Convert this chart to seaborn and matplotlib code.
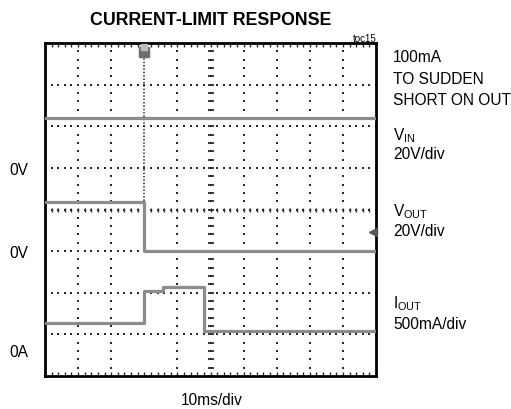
import numpy as np
import pandas as pd
import matplotlib
matplotlib.use("Agg")
import matplotlib.pyplot as plt
import seaborn as sns

# ---- data (read from the scope shot) ----
time_ms = [0, 30, 35.5, 48, 100]
vin_V = [24, 24, 24, 24, 24]
vout_V = [23.6, 0, 0, 0, 0]
iout_mA = [137, 525, 565, 40, 40]
trigger_ms = 30

# channel settings: (ground reference in divisions, units per division)
vin_ref, vin_scale = 5.0, 20.0
vout_ref, vout_scale = 3.0, 20.0
iout_ref, iout_scale = 1.0, 500.0

sns.set_theme(style="white")
plt.rcParams['font.family'] = ['Liberation Sans', 'DejaVu Sans']
plt.rcParams['mathtext.fontset'] = 'custom'
plt.rcParams['mathtext.rm'] = 'Liberation Sans'
plt.rcParams['text.color'] = 'black'

W, H = 511, 410
fig = plt.figure(figsize=(W / 100, H / 100), dpi=100)
L, R, T, B = 45, 376, 44, 377
ax = fig.add_axes([L / W, 1 - B / H, (R - L) / W, (B - T) / H])
ax.set_xlim(0, 100)
ax.set_ylim(0, 8)

# graticule
dot_c = '#2a2a2a'
xs_fine = np.arange(0, 100.001, 2)
ys_fine = np.arange(0, 8.001, 0.2)
for gx in range(10, 100, 10):
    if gx == trigger_ms:
        continue
    ax.scatter(np.full_like(ys_fine, gx), ys_fine, s=2.6, marker='s', color=dot_c, linewidths=0, zorder=1)
for gy in range(1, 8):
    ax.scatter(xs_fine, np.full_like(xs_fine, gy), s=2.6, marker='s', color=dot_c, linewidths=0, zorder=1)
# center axis minor ticks
ax.scatter(np.full_like(ys_fine, 50), ys_fine, s=14, marker='_', color=dot_c, linewidths=1.3, zorder=1)
ax.scatter(xs_fine, np.full_like(xs_fine, 4), s=10, marker='|', color=dot_c, linewidths=1.0, zorder=1)
# bottom / top edge ticks
ax.scatter(xs_fine, np.full_like(xs_fine, 0.05), s=10, marker='|', color=dot_c, linewidths=1.0, zorder=1, clip_on=False)
ax.scatter(xs_fine, np.full_like(xs_fine, 7.95), s=6, marker='|', color=dot_c, linewidths=1.0, zorder=1, clip_on=False)
# trigger line (dense dots)
ax.plot([trigger_ms, trigger_ms], [4.2, 7.7], color=dot_c, lw=1.1, ls=(0, (1, 1.2)), zorder=1)

# traces
df = pd.DataFrame({
    't': time_ms * 3,
    'div': [vin_ref + v / vin_scale for v in vin_V]
         + [vout_ref + v / vout_scale for v in vout_V]
         + [iout_ref + v / iout_scale for v in iout_mA],
    'ch': ['VIN'] * len(time_ms) + ['VOUT'] * len(time_ms) + ['IOUT'] * len(time_ms),
})
sns.lineplot(data=df, x='t', y='div', units='ch', estimator=None, sort=False,
             color='#8c8c8c', linewidth=2.3, drawstyle='steps-post', ax=ax,
             legend=False, zorder=3)

# trigger marker and level marker
ax.plot([trigger_ms], [7.78], marker='s', markersize=7, color='#6e6e6e', zorder=4, clip_on=False)
ax.plot([trigger_ms], [7.9], marker='s', markersize=4, color='#bdbdbd', zorder=5, clip_on=False)
ax.plot([99.2], [3.46], marker='<', markersize=6, color='#555555', zorder=4, clip_on=False)

ax.set_xticks([])
ax.set_yticks([])
ax.set_xlabel('')
ax.set_ylabel('')
for s in ax.spines.values():
    s.set_visible(True)
    s.set_color('black')
    s.set_linewidth(2.0)

def ftxt(x, y, s, **kw):
    fig.text(x / W, 1 - y / H, s, **kw)

fs = 11.2
rx = 393
ftxt(211, 25, 'CURRENT-LIMIT RESPONSE', ha='center', va='baseline', fontsize=12.8, fontweight='bold')
ftxt(377, 42, 'toc15', ha='right', va='baseline', fontsize=7)
ftxt(rx, 62, '100mA', ha='left', va='baseline', fontsize=fs)
ftxt(rx, 84, 'TO SUDDEN', ha='left', va='baseline', fontsize=fs)
ftxt(rx, 105, 'SHORT ON OUT', ha='left', va='baseline', fontsize=fs)
ftxt(rx, 140, r'V$_{\mathregular{IN}}$', ha='left', va='baseline', fontsize=fs)
ftxt(rx, 159, '20V/div', ha='left', va='baseline', fontsize=fs)
ftxt(rx, 216, r'V$_{\mathregular{OUT}}$', ha='left', va='baseline', fontsize=fs)
ftxt(rx, 236, '20V/div', ha='left', va='baseline', fontsize=fs)
ftxt(rx, 308, r'I$_{\mathregular{OUT}}$', ha='left', va='baseline', fontsize=fs)
ftxt(rx, 329, '500mA/div', ha='left', va='baseline', fontsize=fs)
ftxt(9, 175, '0V', ha='left', va='baseline', fontsize=fs)
ftxt(9, 258, '0V', ha='left', va='baseline', fontsize=fs)
ftxt(9, 357, '0A', ha='left', va='baseline', fontsize=fs)
ftxt(212, 405, '10ms/div', ha='center', va='baseline', fontsize=fs)

fig.savefig('out.png', dpi=100, facecolor='white')
